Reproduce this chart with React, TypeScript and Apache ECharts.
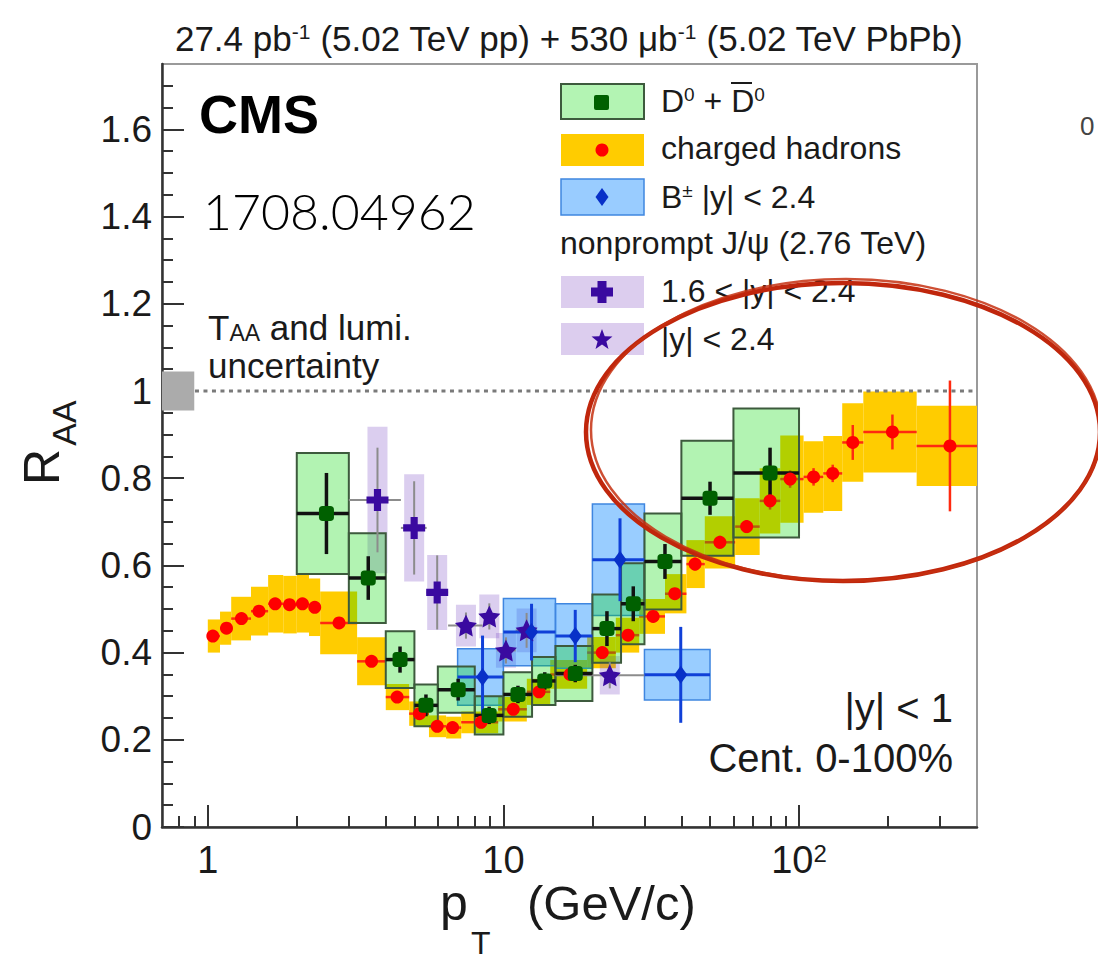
import React, { useEffect, useRef } from 'react';
import * as echarts from 'echarts';

const FONT = '"Liberation Sans", Arial, Helvetica, sans-serif';
const lx = (v: number) => Math.log10(v);

// ---------- charged hadrons ----------
const chLo = [1.0, 1.1, 1.2, 1.4, 1.6, 1.8, 2.0, 2.2, 2.4, 3.2, 4.0, 4.8, 5.6, 6.4, 7.2, 9.6, 12, 14.4, 19.2, 24, 28.8, 35.2, 41.6, 48, 60.8, 73.6, 86.4, 103.6, 120.8, 140, 165, 250];
const chHi = [1.1, 1.2, 1.4, 1.6, 1.8, 2.0, 2.2, 2.4, 3.2, 4.0, 4.8, 5.6, 6.4, 7.2, 9.6, 12, 14.4, 19.2, 24, 28.8, 35.2, 41.6, 48, 60.8, 73.6, 86.4, 103.6, 120.8, 140, 165, 250, 400];
const chPt = [1.04, 1.157, 1.3, 1.49, 1.69, 1.89, 2.09, 2.3, 2.78, 3.58, 4.37, 5.2, 5.97, 6.73, 8.4, 10.8, 13.2, 16.8, 21.6, 26.4, 32.1, 38, 44.5, 54, 66.5, 79.8, 93.3, 112, 130, 152, 207, 324];
const chVal = [0.438, 0.456, 0.478, 0.495, 0.512, 0.51, 0.512, 0.504, 0.468, 0.38, 0.298, 0.26, 0.231, 0.228, 0.24, 0.27, 0.31, 0.35, 0.4, 0.44, 0.483, 0.535, 0.603, 0.653, 0.689, 0.748, 0.798, 0.803, 0.811, 0.882, 0.906, 0.874];
const chSys = [0.038, 0.038, 0.05, 0.056, 0.066, 0.066, 0.066, 0.066, 0.072, 0.055, 0.03, 0.028, 0.025, 0.025, 0.025, 0.028, 0.03, 0.033, 0.036, 0.04, 0.04, 0.045, 0.055, 0.06, 0.065, 0.075, 0.1, 0.082, 0.086, 0.09, 0.093, 0.092];
const chStat = [0.004, 0.004, 0.004, 0.004, 0.004, 0.004, 0.004, 0.004, 0.004, 0.004, 0.005, 0.005, 0.005, 0.005, 0.006, 0.006, 0.007, 0.008, 0.008, 0.01, 0.01, 0.012, 0.015, 0.015, 0.015, 0.02, 0.02, 0.02, 0.02, 0.04, 0.04, 0.15];

// ---------- D0 ----------
const dLo = [2, 3, 4, 5, 6, 8, 10, 12.5, 15, 20, 25, 30, 40, 60];
const dHi = [3, 4, 5, 6, 8, 10, 12.5, 15, 20, 25, 30, 40, 60, 100];
const dPt = [2.52, 3.49, 4.47, 5.47, 7.03, 8.95, 11.2, 13.8, 17.5, 22.4, 27.5, 35.2, 50, 79.8];
const dVal = [0.719, 0.571, 0.384, 0.279, 0.315, 0.256, 0.304, 0.335, 0.352, 0.455, 0.512, 0.609, 0.754, 0.812];
const dSys = [0.139, 0.103, 0.065, 0.048, 0.053, 0.044, 0.051, 0.055, 0.063, 0.078, 0.093, 0.11, 0.132, 0.148];
const dStat = [0.093, 0.05, 0.03, 0.025, 0.025, 0.02, 0.02, 0.02, 0.02, 0.04, 0.04, 0.04, 0.038, 0.058];

// ---------- B+- ----------
const bLo = [7, 10, 15, 20, 30];
const bHi = [10, 15, 20, 30, 50];
const bPt = [8.5, 12.45, 17.5, 24.8, 39.8];
const bVal = [0.344, 0.447, 0.438, 0.613, 0.349];
const bSys = [0.065, 0.077, 0.074, 0.128, 0.058];
const bStat = [0.095, 0.065, 0.06, 0.095, 0.11];

// ---------- nonprompt J/psi 1.6<|y|<2.4 ----------
const jfLo = [3, 4.5, 5.5];
const jfHi = [4.5, 5.5, 6.5];
const jfPt = [3.75, 4.99, 5.97];
const jfVal = [0.75, 0.686, 0.538];
const jfSys = [0.168, 0.123, 0.086];
const jfStat = [0.12, 0.107, 0.085];

// ---------- nonprompt J/psi |y|<2.4 ----------
const jcLo = [6.5, 8.5, 9.5, 11, 15];
const jcHi = [8.5, 9.5, 11, 13, 30];
const jcPt = [7.47, 8.96, 10.2, 11.98, 22.9];
const jcVal = [0.462, 0.483, 0.405, 0.451, 0.348];
const jcSys = [0.048, 0.05, 0.04, 0.05, 0.044];
const jcStat = [0.03, 0.03, 0.03, 0.04, 0.03];

// ---------- global uncertainty ----------
const taaLo = [0.7];
const taaHi = [0.9];
const taaVal = [1];
const taaSys = [0.045];

// ---------- axes ----------
const xMin = 0.7;
const xMax = 400;
const xMajor = [1, 10, 100];
const xMinor = [0.8, 0.9, 2, 3, 4, 5, 6, 7, 8, 9, 20, 30, 40, 50, 60, 70, 80, 90, 200, 300];
const yTicks = [0, 0.2, 0.4, 0.6, 0.8, 1, 1.2, 1.4, 1.6];
const yMinor = [0.05, 0.1, 0.15, 0.25, 0.3, 0.35, 0.45, 0.5, 0.55, 0.65, 0.7, 0.75, 0.85, 0.9, 0.95, 1.05, 1.1, 1.15, 1.25, 1.3, 1.35, 1.45, 1.5, 1.55, 1.65, 1.7];

const PLUS = 'path://M-1.3,-4H1.3V-1.3H4V1.3H1.3V4H-1.3V1.3H-4V-1.3H-1.3Z';
const STAR = 'path://M0,-10L2.94,-4.05L9.51,-3.09L4.76,1.55L5.88,8.09L0,5L-5.88,8.09L-4.76,1.55L-9.51,-3.09L-2.94,-4.05Z';

function boxSeries(lo: number[], hi: number[], val: number[], sys: number[], fill: string, stroke?: string, lw = 0) {
  return {
    type: 'custom',
    silent: true,
    data: val.map((v, i) => [lx(lo[i]), lx(hi[i]), v - sys[i], v + sys[i]]),
    encode: { x: [0, 1], y: [2, 3] },
    renderItem: (_p: any, api: any) => {
      const a = api.coord([api.value(0), api.value(3)]);
      const b = api.coord([api.value(1), api.value(2)]);
      return {
        type: 'rect',
        shape: { x: a[0], y: a[1], width: b[0] - a[0], height: b[1] - a[1] },
        style: { fill, stroke: stroke || 'none', lineWidth: lw },
      };
    },
  };
}

function narrowBoxSeries(pt: number[], val: number[], sys: number[], fill: string) {
  return {
    type: 'custom',
    silent: true,
    data: val.map((v, i) => [lx(pt[i]), v - sys[i], v + sys[i]]),
    encode: { x: [0], y: [1, 2] },
    renderItem: (_p: any, api: any) => {
      const t = api.coord([api.value(0), api.value(2)]);
      const b = api.coord([api.value(0), api.value(1)]);
      return {
        type: 'rect',
        shape: { x: t[0] - 10, y: t[1], width: 20, height: b[1] - t[1] },
        style: { fill },
      };
    },
  };
}

function errSeries(pt: number[], lo: number[], hi: number[], val: number[], stat: number[], color: string, width: number) {
  return {
    type: 'custom',
    silent: true,
    data: pt.map((p, i) => [lx(p), val[i], lx(lo[i]), lx(hi[i]), val[i] - stat[i], val[i] + stat[i]]),
    encode: { x: [0, 2, 3], y: [1, 4, 5] },
    renderItem: (_p: any, api: any) => {
      const c = api.coord([api.value(0), api.value(1)]);
      const l = api.coord([api.value(2), api.value(1)]);
      const r = api.coord([api.value(3), api.value(1)]);
      const t = api.coord([api.value(0), api.value(5)]);
      const b = api.coord([api.value(0), api.value(4)]);
      return {
        type: 'group',
        children: [
          { type: 'line', shape: { x1: l[0], y1: c[1], x2: r[0], y2: c[1] }, style: { stroke: color, lineWidth: width } },
          { type: 'line', shape: { x1: c[0], y1: t[1], x2: c[0], y2: b[1] }, style: { stroke: color, lineWidth: width } },
        ],
      };
    },
  };
}

function markerSeries(pt: number[], val: number[], symbol: string, size: any, color: string) {
  return {
    type: 'scatter',
    silent: true,
    symbol,
    symbolSize: size,
    itemStyle: { color, opacity: 1 },
    data: pt.map((p, i) => [lx(p), val[i]]),
  };
}

function starPoints(cx: number, cy: number, R: number, r: number) {
  const pts: number[][] = [];
  for (let k = 0; k < 10; k++) {
    const ang = -Math.PI / 2 + (k * Math.PI) / 5;
    const rad = k % 2 === 0 ? R : r;
    pts.push([cx + rad * Math.cos(ang), cy + rad * Math.sin(ang)]);
  }
  return pts;
}

function plusPoints(cx: number, cy: number, a: number, t: number) {
  return [
    [cx - t, cy - a], [cx + t, cy - a], [cx + t, cy - t], [cx + a, cy - t], [cx + a, cy + t], [cx + t, cy + t],
    [cx + t, cy + a], [cx - t, cy + a], [cx - t, cy + t], [cx - a, cy + t], [cx - a, cy - t], [cx - t, cy - t],
  ];
}

function txt(x: number, y: number, text: string, fontSize: number, extra: any = {}, rich?: any) {
  return {
    type: 'text',
    x,
    y,
    z: 100,
    silent: true,
    style: {
      text,
      fontSize,
      fontFamily: FONT,
      fill: '#1a1a1a',
      align: 'left',
      verticalAlign: 'middle',
      rich,
      ...extra,
    },
  };
}

const GREEN_FILL = 'rgba(0,215,0,0.3)';
const BLUE_FILL = 'rgba(0,130,255,0.4)';
const LAV_FILL = 'rgba(110,60,190,0.25)';
const ORANGE = '#ffcc00';

export default function App() {
  const ref = useRef<HTMLDivElement>(null);
  useEffect(() => {
    const chart = echarts.init(ref.current!, null, { renderer: 'svg' });
    const legRich = {
      n: { fontSize: 32, fontFamily: FONT, lineHeight: 32, color: '#1a1a1a' },
      s: { fontSize: 19, fontFamily: FONT, lineHeight: 8, verticalAlign: 'top', color: '#1a1a1a' },
    };
    const option: any = {
      animation: false,
      backgroundColor: '#ffffff',
      grid: { left: 162, top: 64, width: 815, height: 763, show: true, borderColor: '#9a9a9a', borderWidth: 2, backgroundColor: 'transparent' },
      xAxis: [
        {
          type: 'value',
          min: lx(xMin),
          max: lx(xMax),
          position: 'bottom',
          axisLine: { show: true, onZero: false, lineStyle: { color: '#333', width: 2.5 } },
          axisTick: { show: true, inside: true, length: 22, customValues: xMajor.map(lx), lineStyle: { color: '#333', width: 2 } },
          axisLabel: {
            show: true,
            customValues: xMajor.map(lx),
            margin: 14,
            fontSize: 38,
            fontFamily: FONT,
            color: '#1a1a1a',
            formatter: (v: number) => (Math.abs(v) < 0.01 ? '{b|1}' : Math.abs(v - 1) < 0.01 ? '{b|10}' : '{b|10}{s|2}'),
            rich: {
              b: { fontSize: 38, fontFamily: FONT, lineHeight: 38, color: '#1a1a1a' },
              s: { fontSize: 24, fontFamily: FONT, lineHeight: 12, verticalAlign: 'top', color: '#1a1a1a' },
            },
          },
          splitLine: { show: false },
        },
        {
          type: 'value',
          min: lx(xMin),
          max: lx(xMax),
          position: 'bottom',
          axisLine: { show: false, onZero: false },
          axisTick: { show: true, inside: true, length: 11, customValues: xMinor.map(lx), lineStyle: { color: '#333', width: 2 } },
          axisLabel: { show: false },
          splitLine: { show: false },
        },
      ],
      yAxis: [
        {
          type: 'value',
          min: 0,
          max: 1.75,
          position: 'left',
          axisLine: { show: true, onZero: false, lineStyle: { color: '#333', width: 2.5 } },
          axisTick: { show: true, inside: true, length: 22, customValues: yTicks, lineStyle: { color: '#333', width: 2 } },
          axisLabel: { show: true, customValues: yTicks, margin: 10, fontSize: 37, fontFamily: FONT, color: '#1a1a1a' },
          splitLine: { show: false },
        },
        {
          type: 'value',
          min: 0,
          max: 1.75,
          position: 'left',
          axisLine: { show: false, onZero: false },
          axisTick: { show: true, inside: true, length: 11, customValues: yMinor, lineStyle: { color: '#333', width: 2 } },
          axisLabel: { show: false },
          splitLine: { show: false },
        },
      ],
      series: [
        boxSeries(taaLo, taaHi, taaVal, taaSys, '#ababab'),
        {
          type: 'line',
          silent: true,
          symbol: 'none',
          data: [[lx(0.905), 1], [lx(xMax), 1]],
          lineStyle: { color: '#7a7a7a', width: 3, type: [4, 4.5] },
        },
        boxSeries(chLo, chHi, chVal, chSys, ORANGE),
        errSeries(chPt, chLo, chHi, chVal, chStat, '#ff2a10', 2.5),
        markerSeries(chPt, chVal, 'circle', 13, '#ff0000'),
        narrowBoxSeries(jfPt, jfVal, jfSys, LAV_FILL),
        narrowBoxSeries(jcPt, jcVal, jcSys, LAV_FILL),
        boxSeries(bLo, bHi, bVal, bSys, BLUE_FILL, '#3f86e0', 1.5),
        boxSeries(dLo, dHi, dVal, dSys, GREEN_FILL, '#3d5a3d', 2),
        errSeries(jfPt, jfLo, jfHi, jfVal, jfStat, '#8c8c8c', 2),
        errSeries(jcPt, jcLo, jcHi, jcVal, jcStat, '#8c8c8c', 2),
        markerSeries(jfPt, jfVal, PLUS, 22, '#3a0aa0'),
        markerSeries(jcPt, jcVal, STAR, 22, '#3a0aa0'),
        errSeries(bPt, bLo, bHi, bVal, bStat, '#1040d8', 3),
        markerSeries(bPt, bVal, 'diamond', [13, 18], '#0830c8'),
        errSeries(dPt, dLo, dHi, dVal, dStat, '#111111', 3.5),
        markerSeries(dPt, dVal, 'roundRect', 15, '#006000'),
      ],
      graphic: [
        // title
        txt(569, 38, '{n|27.4 pb}{s|-1}{n| (5.02 TeV pp) + 530 \u03bcb}{s|-1}{n| (5.02 TeV PbPb)}', 35, { align: 'center' }, {
          n: { fontSize: 35, fontFamily: FONT, lineHeight: 35, color: '#1a1a1a' },
          s: { fontSize: 21, fontFamily: FONT, lineHeight: 10, verticalAlign: 'top', color: '#1a1a1a' },
        }),
        // CMS
        txt(199, 114, 'CMS', 54, { fontWeight: 'bold', fill: '#000' }),
        txt(203, 211, '1708.04962', 50, { fontFamily: 'Lato, "Open Sans", sans-serif', fontWeight: 300, fill: '#000' }),
        // T_AA text
        txt(208, 327, '{n|T}{s|AA}{n| and lumi.}', 35, {}, {
          n: { fontSize: 35, fontFamily: FONT, lineHeight: 35, color: '#1a1a1a' },
          s: { fontSize: 23, fontFamily: FONT, lineHeight: 8, verticalAlign: 'bottom', color: '#1a1a1a' },
        }),
        txt(208, 365, 'uncertainty', 35),
        // |y|<1, centrality
        txt(953, 708, '|y| < 1', 40, { align: 'right' }),
        txt(953, 758, 'Cent. 0-100%', 40, { align: 'right' }),
        // axis titles
        { ...txt(42, 467, 'R', 50, { align: 'center', verticalAlign: 'middle' }), rotation: Math.PI / 2 },
        { ...txt(64, 423, 'AA', 34, { align: 'center', verticalAlign: 'middle' }), rotation: Math.PI / 2 },
        txt(440, 903, 'p', 50),
        txt(471, 943, 'T', 32),
        txt(527, 903, '(GeV/c)', 49),
        // neighbour panel remnant
        txt(1080, 126, '0', 26, { fill: '#444' }),
        // legend
        { type: 'rect', z: 100, silent: true, shape: { x: 561, y: 84, width: 83, height: 35 }, style: { fill: '#b3f4b3', stroke: '#3d5a3d', lineWidth: 2 } },
        { type: 'rect', z: 101, silent: true, shape: { x: 594, y: 95, width: 15, height: 15, r: 2 }, style: { fill: '#006000' } },
        txt(661, 101, '{n|D}{s|0}{n| + D}{s|0}', 32, {}, legRich),
        { type: 'line', z: 101, silent: true, shape: { x1: 731, y1: 83, x2: 752, y2: 83 }, style: { stroke: '#1a1a1a', lineWidth: 2 } },
        { type: 'rect', z: 100, silent: true, shape: { x: 561, y: 134, width: 83, height: 32 }, style: { fill: ORANGE } },
        { type: 'circle', z: 101, silent: true, shape: { cx: 602, cy: 150, r: 6.5 }, style: { fill: '#ff0000' } },
        txt(661, 148, 'charged hadrons', 32),
        { type: 'rect', z: 100, silent: true, shape: { x: 561, y: 179, width: 83, height: 36 }, style: { fill: '#99ccff', stroke: '#3f86e0', lineWidth: 1.5 } },
        { type: 'polygon', z: 101, silent: true, shape: { points: [[602, 188], [608.5, 197], [602, 206], [595.5, 197]] }, style: { fill: '#0830c8' } },
        txt(661, 197, '{n|B}{s|\u00b1}{n| |y| < 2.4}', 32, {}, legRich),
        txt(560, 243, 'nonprompt J/\u03c8 (2.76 TeV)', 32),
        { type: 'rect', z: 100, silent: true, shape: { x: 561, y: 276, width: 83, height: 32 }, style: { fill: '#dccdee' } },
        { type: 'polygon', z: 101, silent: true, shape: { points: plusPoints(602, 292, 11, 4.5) }, style: { fill: '#3a0aa0' } },
        txt(661, 291, '1.6 < |y| < 2.4', 32),
        { type: 'rect', z: 100, silent: true, shape: { x: 561, y: 323, width: 83, height: 32 }, style: { fill: '#dccdee' } },
        { type: 'polygon', z: 101, silent: true, shape: { points: starPoints(602, 340, 11, 4.6) }, style: { fill: '#3a0aa0' } },
        txt(661, 339, '|y| < 2.4', 32),
        // hand-drawn red ellipse annotation
        { type: 'ellipse', z: 200, silent: true, shape: { cx: 843, cy: 432, rx: 257, ry: 149 }, style: { fill: 'none', stroke: '#c0260c', lineWidth: 4.5 } },
        { type: 'ellipse', z: 200, silent: true, shape: { cx: 846, cy: 430, rx: 255, ry: 151 }, style: { fill: 'none', stroke: '#c63010', lineWidth: 2.5, opacity: 0.85 } },
      ],
    };
    chart.setOption(option);
    return () => chart.dispose();
  }, []);
  return <div ref={ref} style={{ position: 'fixed', left: 0, top: 0, width: 1098, height: 964, background: '#fff' }} />;
}
